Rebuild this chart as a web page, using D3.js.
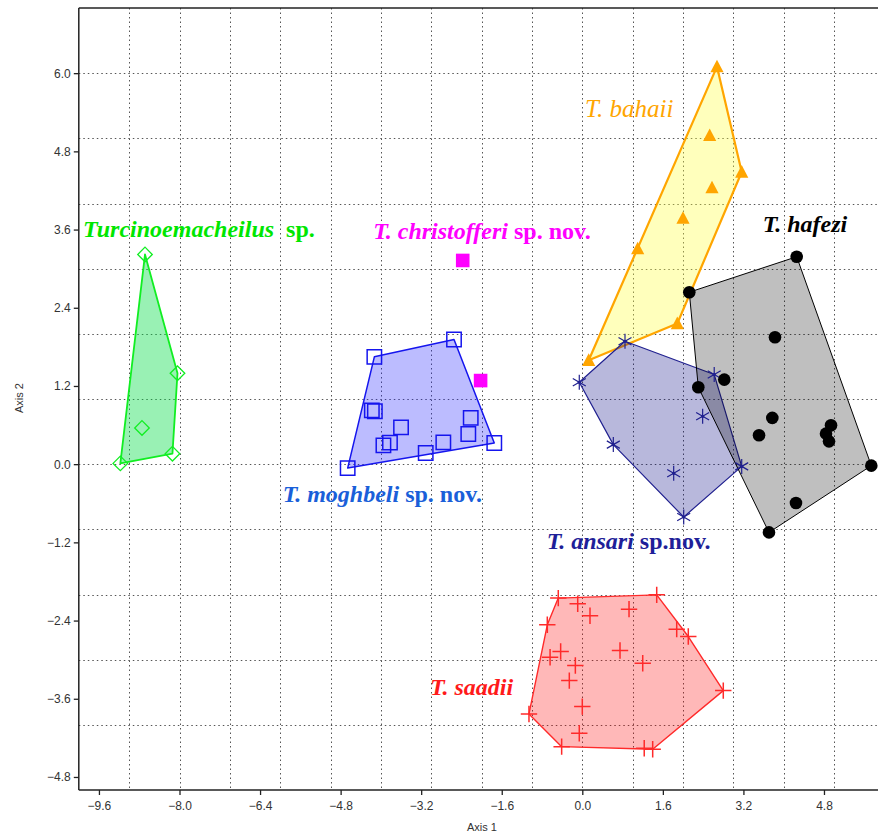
<!DOCTYPE html>
<html><head><meta charset="utf-8">
<script src="https://cdn.jsdelivr.net/npm/d3@7"></script>
<style>
html,body{margin:0;padding:0;background:#fff;}
svg{display:block;}
</style></head>
<body>
<svg id="chart" width="878" height="834"></svg>
<script>
// Scores on axis 1 / axis 2 for each group
const turcinoemacheilus = [[-8.685,3.218],[-8.04,1.395],[-8.745,0.556],[-8.14,0.161],[-9.175,0.012]];
const christofferi = [[-2.375,3.126],[-2.02,1.283]];
const moghbeli = [[-4.66,-0.06],[-4.13,1.647],[-2.548,1.912],[-1.748,0.325],[-3.11,0.172],[-2.76,0.335],
  [-2.264,0.464],[-2.216,0.71],[-3.6,0.565],[-3.82,0.33],[-3.95,0.289],[-4.18,0.826],[-4.12,0.811]];
const bahaii = [[2.675,6.10],[2.53,5.046],[3.166,4.483],[2.576,4.243],[2.0,3.776],[1.10,3.306],[1.887,2.158],[0.127,1.594]];
const ansari = [[-0.06,1.257],[0.848,1.886],[2.62,1.375],[3.166,-0.034],[2.014,-0.811],[0.616,0.30],[1.815,-0.141],[2.39,0.734]];
const hafezi = [[4.258,3.183],[2.125,2.639],[3.827,1.948],[2.82,1.298],[2.304,1.18],[3.774,0.71],[3.51,0.443],
  [4.94,0.596],[4.84,0.468],[4.9,0.35],[5.74,-0.023],[4.244,-0.596],[3.708,-1.047]];
const saadii = [[-0.477,-2.055],[1.478,-2.005],[-0.091,-2.143],[0.153,-2.327],[0.928,-2.225],[1.875,-2.532],[2.105,-2.645],
  [-0.695,-2.465],[-0.43,-2.875],[-0.64,-2.962],[-0.138,-3.09],[0.749,-2.86],[1.2,-3.054],[-0.258,-3.321],[2.8,-3.475],
  [0.0,-3.72],[-1.059,-3.833],[-0.06,-4.129],[-0.41,-4.335],[1.23,-4.36],[1.398,-4.375]];

const xTicks = [-9.6,-8.0,-6.4,-4.8,-3.2,-1.6,0.0,1.6,3.2,4.8];
const yTicks = [-4.8,-3.6,-2.4,-1.2,0.0,1.2,2.4,3.6,4.8,6.0];
const xGrid = [-9,-8,-7,-6,-5,-4,-3,-2,-1,0,1,2,3,4,5];
const yGrid = [-4,-3,-2,-1,0,1,2,3,4,5,6];

const svg = d3.select("#chart");
const plotLeft = 78.8, plotRight = 884.4, plotTop = 8, plotBottom = 790;
const x = d3.scaleLinear().domain([-10, 6]).range([plotLeft, plotRight]);
const y = d3.scaleLinear().domain([-5, 7]).range([plotBottom, plotTop]);

// dotted grid
const grid = svg.append("g").attr("stroke", "#555").attr("stroke-width", 1).attr("stroke-dasharray", "1.5,3");
grid.selectAll("line.v").data(xGrid).join("line").attr("class","v")
  .attr("x1", d => Math.round(x(d)) + 0.5).attr("x2", d => Math.round(x(d)) + 0.5)
  .attr("y1", plotTop).attr("y2", plotBottom);
grid.selectAll("line.h").data(yGrid).join("line").attr("class","h")
  .attr("y1", d => Math.round(y(d)) + 0.5).attr("y2", d => Math.round(y(d)) + 0.5)
  .attr("x1", plotLeft).attr("x2", plotRight);

// marker shapes
const shapes = {
  diamond: h => `M0,${-h}L${h},0L0,${h}L${-h},0Z`,
  square: h => `M${-h},${-h}H${h}V${h}H${-h}Z`,
  triangle: h => `M0,${-h*1.05}L${h},${h*0.85}L${-h},${h*0.85}Z`,
  circle: h => `M${h},0A${h},${h} 0 1,1 ${-h},0A${h},${h} 0 1,1 ${h},0Z`,
  plus: h => `M${-h},0H${h}M0,${-h}V${h}`,
  asterisk: h => {
    const u = h * Math.cos(Math.PI/6), t = h * Math.sin(Math.PI/6);
    return `M0,${-h}V${h}M${-u},${-t}L${u},${t}M${-u},${t}L${u},${-t}`;
  }
};

const groups = [
  {pts: turcinoemacheilus, shape: "diamond", size: 7.3, line: "#11ee22", lw: 1.8, fill: "#00dd44", fo: 0.4, mFill: "none", mStroke: "#11ee22", mw: 1.3},
  {pts: moghbeli, shape: "square", size: 7.2, line: "#1515ee", lw: 1.5, fill: "#2020ff", fo: 0.3, mFill: "none", mStroke: "#1515ee", mw: 1.5},
  {pts: bahaii, shape: "triangle", size: 6.6, line: "#ffa500", lw: 2.2, fill: "#ffff40", fo: 0.35, mFill: "#ffa500", mStroke: "none", mw: 0},
  {pts: ansari, shape: "asterisk", size: 7.5, line: "#20208f", lw: 1.2, fill: "#000080", fo: 0.28, mFill: "none", mStroke: "#20208f", mw: 1.2},
  {pts: hafezi, shape: "circle", size: 6.3, line: "#000", lw: 1, fill: "#000", fo: 0.25, mFill: "#000", mStroke: "none", mw: 0},
  {pts: saadii, shape: "plus", size: 8.2, line: "#ff2a2a", lw: 1.4, fill: "#ff0000", fo: 0.28, mFill: "none", mStroke: "#ff2a2a", mw: 1.5},
  {pts: christofferi, shape: "square", size: 6.8, line: "#ff00ff", lw: 1, fill: "#ff00ff", fo: 0, mFill: "#ff00ff", mStroke: "none", mw: 0}
];

// convex hulls
const hullG = svg.append("g");
groups.forEach(g => {
  const hull = d3.polygonHull(g.pts.map(p => [x(p[0]), y(p[1])]));
  if (!hull) return;
  hullG.append("path")
    .attr("d", "M" + hull.join("L") + "Z")
    .attr("fill", g.fill).attr("fill-opacity", g.fo)
    .attr("stroke", g.line).attr("stroke-width", g.lw).attr("stroke-linejoin", "round");
});

// markers
const markG = svg.append("g");
groups.forEach(g => {
  markG.append("g").selectAll("path").data(g.pts).join("path")
    .attr("transform", p => `translate(${x(p[0])},${y(p[1])})`)
    .attr("d", shapes[g.shape](g.size))
    .attr("fill", g.mFill).attr("stroke", g.mStroke).attr("stroke-width", g.mw);
  if (g.shape === "asterisk") {
    markG.append("g").selectAll("circle").data(g.pts).join("circle")
      .attr("cx", p => x(p[0])).attr("cy", p => y(p[1])).attr("r", 1.6).attr("fill", g.mStroke);
  }
});

// axes
const axisFont = "'Liberation Sans', Arial, sans-serif";
const xAxis = svg.append("g").attr("transform", `translate(0,${plotBottom})`)
  .call(d3.axisBottom(x).tickValues(xTicks).tickFormat(d3.format(".1f")).tickSizeOuter(0).tickSize(5).tickPadding(6));
const yAxis = svg.append("g").attr("transform", `translate(${plotLeft},0)`)
  .call(d3.axisLeft(y).tickValues(yTicks).tickFormat(d3.format(".1f")).tickSizeOuter(0).tickSize(5).tickPadding(3));
[xAxis, yAxis].forEach(a => {
  a.select(".domain").attr("stroke", "#222").attr("stroke-width", 1.5);
  a.selectAll(".tick line").attr("stroke", "#222").attr("stroke-width", 1.3);
  a.selectAll(".tick text").attr("fill", "#333").style("font-family", axisFont).style("font-size", "12px");
});
xAxis.select(".domain").attr("d", `M${plotLeft},0H${plotRight}`);
yAxis.select(".domain").attr("d", `M0,${plotTop}V${plotBottom}`);
svg.append("line").attr("x1", plotLeft).attr("x2", plotRight).attr("y1", plotTop).attr("y2", plotTop)
  .attr("stroke", "#222").attr("stroke-width", 1.5);

svg.append("text").attr("x", 482).attr("y", 831).attr("text-anchor", "middle")
  .attr("fill", "#333").style("font-family", axisFont).style("font-size", "11px").text("Axis 1");
svg.append("text").attr("transform", "translate(23,398) rotate(-90)").attr("text-anchor", "middle")
  .attr("fill", "#333").style("font-family", axisFont).style("font-size", "11px").text("Axis 2");

// group names
const labels = [
  {at: [-9.917, 3.486], color: "#00e600", parts: [["Turcinoemacheilus", true], ["\u00a0 sp.", false]]},
  {at: [-4.151, 3.456], color: "#ff00ff", parts: [["T. christofferi", true], [" sp. nov.", false]]},
  {at: [-5.95, -0.575], color: "#1a5fd9", parts: [["T. moghbeli", true], [" sp. nov.", false]]},
  {at: [0.054, 5.332], color: "#ffa500", parts: [["T. bahaii", true]], weight: "normal", size: "25px"},
  {at: [3.583, 3.563], color: "#000", parts: [["T. hafezi", true]]},
  {at: [-0.707, -1.301], color: "#1f1f99", parts: [["T. ansari", true], [" sp.nov.", false]]},
  {at: [-3.025, -3.541], color: "#ff1a1a", parts: [["T. saadii", true]]}
];
const labG = svg.append("g").style("font-family", "'Liberation Serif', 'Times New Roman', serif").style("font-size", "24px");
labels.forEach(l => {
  const t = labG.append("text").attr("x", x(l.at[0])).attr("y", y(l.at[1])).attr("fill", l.color)
    .style("font-weight", l.weight || "bold");
  if (l.size) t.style("font-size", l.size);
  l.parts.forEach(p => t.append("tspan").style("font-style", p[1] ? "italic" : "normal").text(p[0]));
});
</script>
</body></html>
